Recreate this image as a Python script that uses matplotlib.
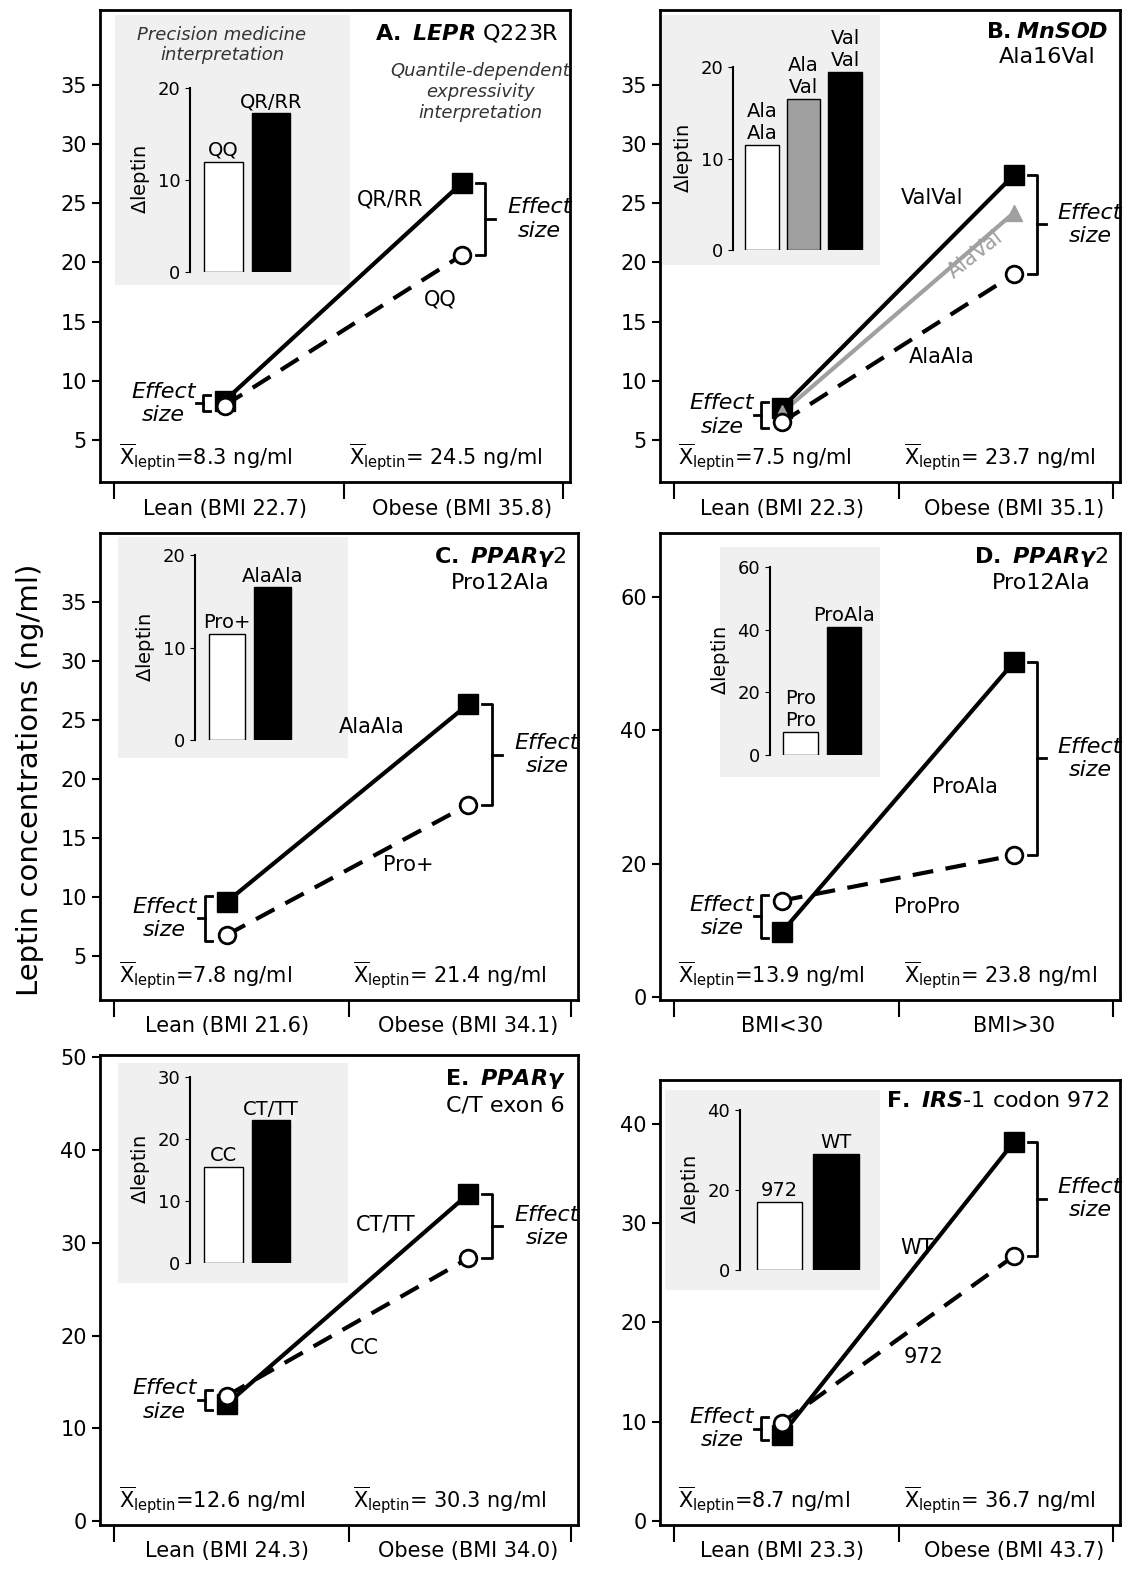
import numpy as np
import matplotlib.pyplot as plt
from matplotlib.patches import Rectangle

W, H = 1146, 1580

# ---- data ----
titles = [r'$\bf{A.}$ $\it{LEPR}$ Q223R', r'$\bf{B.}\it{MnSOD}$' + '\nAla16Val',
          r'$\bf{C.}$ $\it{PPAR\gamma 2}$' + '\nPro12Ala', r'$\bf{D.}$ $\it{PPAR\gamma 2}$' + '\nPro12Ala',
          r'$\bf{E.}$ $\it{PPAR\gamma}$' + '\nC/T exon 6', r'$\bf{F.}$ $\it{IRS}$-$\it{1}$ codon 972']
risk_names = ['QR/RR', 'ValVal', 'AlaAla', 'ProAla', 'CT/TT', 'WT']
ref_names = ['QQ', 'AlaAla', 'Pro+', 'ProPro', 'CC', '972']
risk_lean = [8.3, 7.7, 9.6, 9.8, 12.6, 8.7]
risk_obese = [26.7, 27.4, 26.3, 50.3, 35.2, 38.2]
ref_lean = [7.9, 6.5, 6.8, 14.5, 13.5, 9.9]
ref_obese = [20.6, 19.0, 17.8, 21.3, 28.3, 26.7]
het_lean, het_obese = 7.3, 24.2          # panel B AlaVal
mean_lean = ['8.3', '7.5', '7.8', '13.9', '12.6', '8.7']
mean_obese = ['24.5', '23.7', '21.4', '23.8', '30.3', '36.7']
group_lean = ['Lean (BMI 22.7)', 'Lean (BMI 22.3)', 'Lean (BMI 21.6)', 'BMI<30',
              'Lean (BMI 24.3)', 'Lean (BMI 23.3)']
group_obese = ['Obese (BMI 35.8)', 'Obese (BMI 35.1)', 'Obese (BMI 34.1)', 'BMI>30',
               'Obese (BMI 34.0)', 'Obese (BMI 43.7)']
yticks = [[5, 10, 15, 20, 25, 30, 35]] * 3 + [[0, 20, 40, 60], [0, 10, 20, 30, 40, 50],
                                             [0, 10, 20, 30, 40]]
bar_labels = [['QQ', 'QR/RR'], ['Ala\nAla', 'Ala\nVal', 'Val\nVal'], ['Pro+', 'AlaAla'],
              ['Pro\nPro', 'ProAla'], ['CC', 'CT/TT'], ['972', 'WT']]
bar_values = [[12, 17.3], [11.5, 16.5, 19.5], [11.5, 16.5], [7.5, 41], [15.5, 23], [17, 29]]
bar_colors = [['white', 'black'], ['white', '#a0a0a0', 'black'], ['white', 'black'],
              ['white', 'black'], ['white', 'black'], ['white', 'black']]
bar_ticks = [[0, 10, 20], [0, 10, 20], [0, 10, 20], [0, 20, 40, 60], [0, 10, 20, 30],
             [0, 20, 40]]

# ---- layout (pixels) ----
boxes = [(100, 10, 570, 482), (660, 10, 1120, 482), (100, 533, 578, 1000),
         (660, 533, 1120, 1000), (100, 1055, 578, 1525), (660, 1080, 1120, 1525)]
ylims = [(1.45, 41.3), (1.45, 41.3), (1.3, 40.8), (-0.4, 69.6), (-0.4, 50.2), (-0.4, 44.4)]
greys = [(115, 15, 350, 285), (662, 15, 880, 265), (118, 537, 348, 758),
         (720, 547, 880, 777), (118, 1063, 348, 1283), (665, 1090, 880, 1290)]
insets = [(190, 88, 300, 272), (733, 67, 870, 250), (195, 555, 300, 740),
          (770, 567, 870, 755), (190, 1077, 300, 1263), (740, 1110, 870, 1270)]
risk_lab_px = [(390, 200), (932, 198), (372, 727), (965, 787), (386, 1225), (917, 1248)]
ref_lab_px = [(440, 300), (942, 357), (408, 865), (927, 907), (364, 1348), (924, 1357)]
XL, XO = 0.265, 0.77


def rect(x0, y0, x1, y1):
    return [x0 / W, 1 - y1 / H, (x1 - x0) / W, (y1 - y0) / H]


plt.rcParams['font.family'] = ['DejaVu Sans']
plt.rcParams['mathtext.fontset'] = 'custom'
plt.rcParams['mathtext.rm'] = 'DejaVu Sans'
plt.rcParams['mathtext.it'] = 'DejaVu Sans:italic:bold'
plt.rcParams['mathtext.bf'] = 'DejaVu Sans:bold'
fig = plt.figure(figsize=(W / 100, H / 100), dpi=100)

for i in range(6):
    # grey background of the inset, below the transparent panel
    r = rect(*greys[i])
    fig.patches.append(Rectangle(r[:2], r[2], r[3], transform=fig.transFigure,
                                 facecolor='#f0f0f0', edgecolor='none', zorder=-1))

    ax = fig.add_axes(rect(*boxes[i]))
    ax.patch.set_alpha(0)
    ax.set_xlim(0, 1)
    ax.set_ylim(*ylims[i])
    for s in ax.spines.values():
        s.set_linewidth(2)
    ax.set_yticks(yticks[i])
    ax.tick_params(axis='y', labelsize=15, width=1.5, length=6)
    ax.set_xticks([0.03, 0.52, 0.985])
    ax.set_xticklabels([])
    ax.tick_params(axis='x', width=1.5, length=12)
    ax.text(XL, -0.035, group_lean[i], transform=ax.transAxes, ha='center', va='top', fontsize=15)
    ax.text(XO, -0.035, group_obese[i], transform=ax.transAxes, ha='center', va='top', fontsize=15)
    ax.text(0.04, 0.02, r'$\overline{\rm X}_{\rm leptin}$=' + mean_lean[i] + ' ng/ml',
            transform=ax.transAxes, fontsize=15, va='bottom')
    ax.text(0.53, 0.02, r'$\overline{\rm X}_{\rm leptin}$= ' + mean_obese[i] + ' ng/ml',
            transform=ax.transAxes, fontsize=15, va='bottom')

    ax.plot([XL, XO], [ref_lean[i], ref_obese[i]], 'k--', lw=3, dashes=(5, 3), zorder=2)
    ax.plot([XL, XO], [risk_lean[i], risk_obese[i]], 'k-', lw=3, zorder=2)
    if i == 1:
        ax.plot([XL, XO], [het_lean, het_obese], '-', color='#a0a0a0', lw=3, zorder=2)
        ax.plot([XL, XO], [het_lean, het_obese], '^', color='#a0a0a0', ms=12, zorder=4)
    ax.plot([XL, XO], [risk_lean[i], risk_obese[i]], 's', color='black', ms=14, zorder=3)
    ax.plot([XL, XO], [ref_lean[i], ref_obese[i]], 'o', mfc='white', mec='black', mew=2,
            ms=12, zorder=5)

    # obese effect-size bracket
    lo, hi = sorted([ref_obese[i], risk_obese[i]])
    bx = XO + 0.05
    ax.plot([bx - 0.02, bx, bx, bx - 0.02], [hi, hi, lo, lo], 'k-', lw=2)
    ax.plot([bx, bx + 0.02], [(lo + hi) / 2] * 2, 'k-', lw=2)
    ax.text(bx + 0.115, (lo + hi) / 2, 'Effect\nsize', ha='center', va='center',
            style='italic', fontsize=16)
    # lean effect-size bracket
    lo, hi = sorted([ref_lean[i], risk_lean[i]])
    d = (ylims[i][1] - ylims[i][0]) * 0.012
    bx = XL - 0.045
    ax.plot([bx + 0.015, bx, bx, bx + 0.015], [hi + d, hi + d, lo - d, lo - d], 'k-', lw=2)
    ax.plot([bx - 0.015, bx], [(lo + hi) / 2] * 2, 'k-', lw=2)
    ax.text(bx - 0.085, (lo + hi) / 2, 'Effect\nsize', ha='center', va='center',
            style='italic', fontsize=16)

    ax.text(0.975, 0.975, titles[i], transform=ax.transAxes, ha='right', va='top',
            fontsize=16, linespacing=1.3, multialignment='center')

    # line labels
    fig.text(risk_lab_px[i][0] / W, 1 - risk_lab_px[i][1] / H, risk_names[i],
             fontsize=15, ha='center', va='center')
    fig.text(ref_lab_px[i][0] / W, 1 - ref_lab_px[i][1] / H, ref_names[i],
             fontsize=15, ha='center', va='center')

    # inset bar chart
    ia = fig.add_axes(rect(*insets[i]))
    ia.patch.set_alpha(0)
    n = len(bar_values[i])
    xs = np.arange(n)
    ia.bar(xs, bar_values[i], width=0.8, color=bar_colors[i], edgecolor='black', lw=1)
    for x, v, lab in zip(xs, bar_values[i], bar_labels[i]):
        ia.text(x, v + bar_ticks[i][-1] * 0.01, lab, ha='center', va='bottom', fontsize=14)
    ia.set_xlim(-0.7, n - 0.4)
    ia.set_ylim(0, bar_ticks[i][-1])
    ia.set_yticks(bar_ticks[i])
    ia.set_xticks([])
    ia.tick_params(axis='y', labelsize=13)
    ia.spines['top'].set_visible(False)
    ia.spines['right'].set_visible(False)
    ia.spines['bottom'].set_visible(False)
    ia.spines['left'].set_linewidth(1.5)
    ia.set_ylabel(r'$\Delta$leptin', fontsize=14)

fig.text(975 / W, 1 - 255 / H, 'AlaVal', fontsize=15, color='#a0a0a0', rotation=38,
         ha='center', va='center')
fig.text(222 / W, 1 - 45 / H, 'Precision medicine\ninterpretation', ha='center',
         va='center', style='italic', fontsize=13, color='#333333')
fig.text(480 / W, 1 - 92 / H, 'Quantile-dependent\nexpressivity\ninterpretation',
         ha='center', va='center', style='italic', fontsize=13, color='#333333')

fig.text(30 / W, 1 - 780 / H, 'Leptin concentrations (ng/ml)', rotation=90, fontsize=21,
         ha='center', va='center')

fig.savefig('out.png', dpi=100)
